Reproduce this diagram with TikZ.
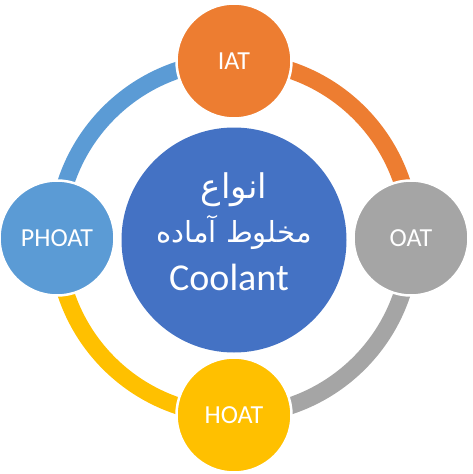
\documentclass[tikz,border=0pt]{standalone}
\usepackage{fontspec}
\setmainfont{Carlito}
\newfontfamily\arabicfont[Script=Arabic]{DejaVu Sans}
\TeXXeTstate=1
\definecolor{cOrange}{HTML}{ED7D31}
\definecolor{cGray}{HTML}{A5A5A5}
\definecolor{cYellow}{HTML}{FFC000}
\definecolor{cLBlue}{HTML}{5B9BD5}
\definecolor{cBlue}{HTML}{4472C4}
\pgfdeclarelayer{bg}
\pgfsetlayers{bg,main}
\begin{document}
\begin{tikzpicture}[x=1pt,y=-1pt,
  ring/.style={line width=17pt},
  sat/.style={circle, minimum size=115pt, inner sep=0pt, draw=white, line width=2.5pt, text=white, font=\fontsize{26}{26}\selectfont},
  hub/.style={circle, minimum size=225pt, inner sep=0pt, fill=cBlue},
  hubtext/.style={text=white, inner sep=0pt}
]
\useasboundingbox (0,0) rectangle (472,474);
\node[sat, fill=cOrange] (iat) at (234,61) {IAT};
\node[sat, fill=cGray] (oat) at (411,238) {OAT};
\node[sat, fill=cYellow] (hoat) at (234,415) {HOAT};
\node[sat, fill=cLBlue] (phoat) at (57,238) {PHOAT};
\node[hub] (hub) at (234,240) {};
\node[hubtext, font=\arabicfont\fontsize{34}{34}\selectfont] (l1) at (234,190) {\beginR انواع\endR};
\node[hubtext, font=\arabicfont\fontsize{29}{29}\selectfont] (l2) at (234,232) {\beginR مخلوط آماده\endR};
\node[hubtext, font=\fontsize{38}{38}\selectfont] (l3) at (229,277) {Coolant};
\begin{pgfonlayer}{bg}
\fill[white] (0,0) rectangle (472,474);
\draw[ring, draw=cOrange] (iat.center) arc[start angle=-90, end angle=0, radius=177];
\draw[ring, draw=cGray] (oat.center) arc[start angle=0, end angle=90, radius=177];
\draw[ring, draw=cYellow] (hoat.center) arc[start angle=90, end angle=180, radius=177];
\draw[ring, draw=cLBlue] (phoat.center) arc[start angle=180, end angle=270, radius=177];
\end{pgfonlayer}
\end{tikzpicture}
\end{document}
